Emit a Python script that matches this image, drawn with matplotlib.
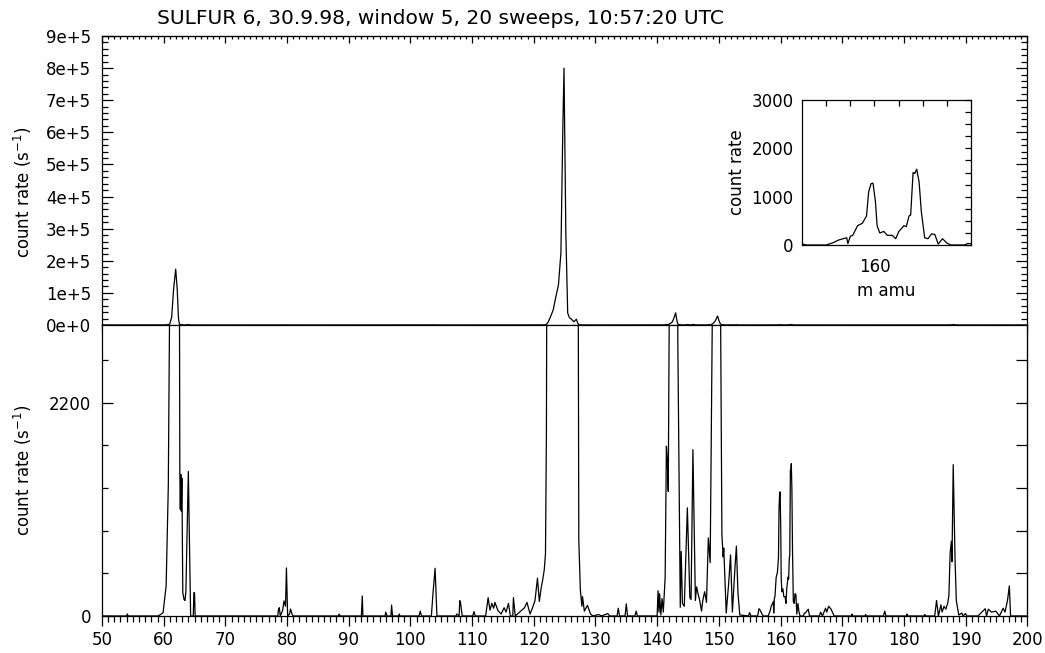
import matplotlib
matplotlib.use("Agg")
import matplotlib.pyplot as plt
import numpy as np

plt.rcParams['font.family'] = ['DejaVu Sans']

# mass spectrum (m in amu, counts in s^-1)
mass = [50.0, 54.0, 54.1, 54.25, 59.1, 59.5, 59.9, 60.4, 60.75, 61.0, 61.3, 61.6, 61.95,
        62.2, 62.4, 62.55, 62.62, 62.7, 62.78, 62.86, 62.95, 63.1, 63.3, 63.45, 63.6, 64.0,
        64.37, 64.8, 64.9, 65.0, 65.1, 78.5, 78.6, 78.75, 78.9, 79.3, 79.5, 79.75, 79.9,
        80.1, 80.4, 80.57, 80.8, 81.0, 88.3, 88.45, 88.6, 92.05, 92.2, 92.3, 95.9, 96.0,
        96.2, 96.85, 96.95, 97.1, 98.1, 98.2, 98.3, 101.4, 101.6, 101.8, 103.4, 103.67,
        104.0, 104.3, 107.4, 107.5, 107.9, 108.0, 108.1, 108.4, 110.1, 110.3, 110.5,
        112.2, 112.6, 112.9, 113.2, 113.5, 113.7, 114.2, 114.7, 115.2, 115.5, 115.9,
        116.2, 116.6, 116.7, 117.0, 117.8, 118.5, 118.9, 119.4, 119.8, 120.2, 120.6,
        120.9, 121.2, 121.4, 121.7, 121.9, 122.05, 122.3, 122.7, 123.15, 123.6, 124.0,
        124.4, 124.7, 124.9, 125.2, 125.5, 125.8, 126.0, 126.5, 126.9, 127.15, 127.3,
        127.55, 127.8, 127.9, 128.2, 128.7, 129.2, 129.6, 130.5, 131.0, 132.0, 132.3,
        133.5, 133.7, 133.9, 134.8, 135.0, 135.2, 136.4, 136.6, 136.8, 140.0, 140.15,
        140.3, 140.4, 140.6, 140.8, 141.0, 141.3, 141.5, 141.65, 141.8, 142.0, 142.4,
        142.7, 143.0, 143.2, 143.35, 143.75, 143.9, 144.1, 144.4, 144.9, 145.3, 145.5,
        145.8, 146.2, 146.4, 146.6, 146.9, 147.2, 147.4, 147.7, 148.0, 148.3, 148.6,
        149.0, 149.4, 149.8, 150.05, 150.25, 150.5, 150.7, 150.8, 151.2, 151.6, 151.9,
        152.2, 152.6, 152.85, 153.1, 153.4, 154.8, 155.0, 155.2, 156.3, 156.5, 156.7,
        157.0, 157.2, 158.0, 158.3, 158.5, 158.7, 158.85, 158.9, 159.0, 159.1, 159.3,
        159.5, 159.67, 159.76, 159.86, 159.94, 160.04, 160.11, 160.22, 160.39, 160.53,
        160.74, 160.88, 161.01, 161.22, 161.32, 161.43, 161.5, 161.6, 161.67, 161.75,
        161.85, 161.94, 162.08, 162.22, 162.36, 162.5, 162.64, 162.82, 163.0, 163.17,
        163.72, 163.86, 164.0, 164.5, 164.7, 166.3, 166.5, 166.8, 167.3, 167.5, 167.8,
        168.2, 168.7, 171.5, 171.6, 171.7, 173.7, 173.8, 173.9, 176.7, 176.9, 177.1,
        180.4, 180.5, 180.6, 183.3, 183.4, 183.5, 185.0, 185.3, 185.6, 186.0, 186.2,
        186.5, 186.8, 187.1, 187.3, 187.5, 187.7, 187.8, 188.0, 188.3, 188.5, 188.9,
        189.4, 189.6, 190.0, 190.2, 192.0, 193.2, 193.4, 193.7, 194.2, 194.9, 195.5,
        196.1, 196.4, 196.6, 196.8, 197.1, 197.3, 200.0]
counts = [0, 0, 20, 0, 0, 15, 34, 310, 1336, 3500, 25000, 110000, 174000,
          110000, 20000, 3500, 1470, 1100, 1460, 1080, 1420, 240, 170, 160, 250, 1490,
          0, 0, 240, 240, 0, 0, 62, 85, 0, 60, 155, 100, 496,
          0, 20, 72, 20, 0, 0, 20, 0, 0, 207, 0, 0, 40,
          0, 0, 113, 0, 0, 20, 0, 0, 50, 0, 0, 240,
          492, 0, 0, 20, 0, 158, 150, 0, 0, 45, 0,
          0, 189, 60, 130, 80, 140, 55, 20, 85, 40, 130,
          0, 0, 190, 0, 45, 85, 140, 20, 85, 160, 390,
          150, 290, 355, 475, 645, 1890, 8000, 25000, 47000, 90000, 125000,
          224000, 600000, 800000, 286000, 37000, 22000, 20000, 10000, 18000, 5000, 785,
          270, 100, 200, 50, 110, 20, 0, 15, 0, 25, 0,
          0, 80, 0, 0, 125, 0, 0, 50, 0, 0, 260,
          40, 230, 10, 180, 40, 400, 1750, 1600, 1285, 3500, 8000,
          20000, 38000, 15000, 2850, 90, 665, 130, 100, 1115, 190, 170,
          1715, 160, 300, 240, 160, 50, 160, 250, 140, 805, 550,
          3500, 12000, 28000, 12000, 3500, 840, 610, 700, 30, 340, 630,
          40, 480, 720, 240, 10, 0, 35, 0, 0, 75, 60,
          20, 0, 0, 50, 100, 130, 150, 30, 180, 200, 400,
          450, 600, 1100, 1270, 1280, 900, 400, 250, 280, 200,
          200, 130, 280, 400, 380, 600, 620, 1500, 1480, 1570,
          1300, 700, 150, 130, 230, 220, 20, 130, 40, 0,
          0, 30, 30, 70, 0, 0, 40, 0, 80, 40, 100,
          70, 0, 0, 20, 0, 0, 15, 0, 0, 50, 0,
          0, 20, 0, 0, 15, 0, 0, 160, 0, 115, 40,
          100, 70, 130, 210, 650, 770, 560, 1560, 575, 160, 10,
          30, 0, 25, 0, 0, 75, 0, 70, 40, 50, 0,
          80, 40, 100, 160, 310, 0, 0]

title = "SULFUR 6, 30.9.98, window 5, 20 sweeps, 10:57:20 UTC"
top_ticks = np.arange(0, 9.01e5, 1e5)
top_labels = ["%de+%d" % (v // 1e5, 5) if v > 0 else "0e+0" for v in top_ticks]
bottom_ticks = [0, 2200]
bottom_minor = np.arange(0, 3000, 440)
inset_yticks = [0, 1000, 2000, 3000]

m = np.array(mass)
c = np.array(counts)

fig = plt.figure(figsize=(10.45, 6.53), dpi=100)
L, W = 0.0976, 0.8854
ax1 = fig.add_axes([L, 0.5023, W, 0.4426])
ax2 = fig.add_axes([L, 0.0567, W, 0.4456])

lw = 0.9
for ax in (ax1, ax2):
    ax.plot(m, c, color='black', lw=lw)
    ax.set_xlim(50, 200)
    for s in ax.spines.values():
        s.set_linewidth(0.9)
    ax.xaxis.set_major_locator(plt.MultipleLocator(10))
    ax.xaxis.set_minor_locator(plt.MultipleLocator(1))

# upper panel
ax1.set_ylim(0, 9e5)
ax1.set_yticks(top_ticks)
ax1.set_yticklabels(top_labels)
ax1.yaxis.set_minor_locator(plt.MultipleLocator(2e4))
ax1.tick_params(axis='y', which='both', direction='in', left=True, right=True,
                labelsize=12, pad=8)
ax1.tick_params(axis='y', which='major', length=8, width=0.9)
ax1.tick_params(axis='y', which='minor', length=4, width=0.9)
ax1.tick_params(axis='x', which='both', direction='out', labelbottom=False, width=0.9)
ax1.tick_params(axis='x', which='major', length=6)
ax1.tick_params(axis='x', which='minor', length=3)
sec = ax1.secondary_xaxis('top')
sec.xaxis.set_major_locator(plt.MultipleLocator(10))
sec.xaxis.set_minor_locator(plt.MultipleLocator(1))
sec.tick_params(axis='x', which='both', direction='in', labeltop=False, width=0.9)
sec.tick_params(axis='x', which='major', length=5)
sec.tick_params(axis='x', which='minor', length=2.5)
ax1.set_ylabel("count rate (s$^{-1}$)", fontsize=12)
ax1.yaxis.set_label_coords(-0.0735, 0.46)

# lower panel
ax2.set_ylim(0, 3000)
ax2.set_yticks(bottom_ticks)
ax2.set_yticks(bottom_minor, minor=True)
ax2.tick_params(axis='y', which='both', direction='in', left=True, right=False,
                labelsize=12, pad=8, width=0.9)
ax2.tick_params(axis='y', which='major', length=8)
ax2.tick_params(axis='y', which='minor', length=4)
sec2 = ax2.secondary_yaxis('right')
sec2.set_yticks(bottom_minor)
sec2.tick_params(axis='y', which='both', direction='in', labelright=False, length=8, width=0.9)
sec2.yaxis.set_minor_locator(plt.NullLocator())
ax2.tick_params(axis='x', which='both', direction='out', top=False, labelsize=12, width=0.9)
ax2.tick_params(axis='x', which='major', length=7, pad=4)
ax2.tick_params(axis='x', which='minor', length=4)
ax2.set_ylabel("count rate (s$^{-1}$)", fontsize=12)
ax2.yaxis.set_label_coords(-0.0735, 0.5)

fig.text(157 / 1045, 1 - 18 / 653, title, fontsize=14.5, ha='left', va='center')

# inset around 160 amu
axi = fig.add_axes([0.7675, 0.6248, 0.1617, 0.222])
axi.plot(m, c, color='black', lw=lw)
axi.set_xlim(157, 164)
axi.set_ylim(0, 3000)
axi.set_xticks(range(158, 164))
axi.set_xticklabels(["160" if t == 160 else "" for t in range(158, 164)])
axi.set_yticks(np.arange(0, 3001, 250))
axi.set_yticklabels([str(int(v)) if v in inset_yticks else "" for v in np.arange(0, 3001, 250)])
axi.tick_params(axis='both', direction='in', bottom=False, top=True, left=False, right=True,
                labelsize=12, length=4, width=0.9, pad=6)
axi.tick_params(axis='x', pad=9)
for s in axi.spines.values():
    s.set_linewidth(0.9)
axi.set_xlabel("m amu", fontsize=12, labelpad=5)
axi.set_ylabel("count rate", fontsize=12, labelpad=4)

fig.savefig("out.png", dpi=100)
